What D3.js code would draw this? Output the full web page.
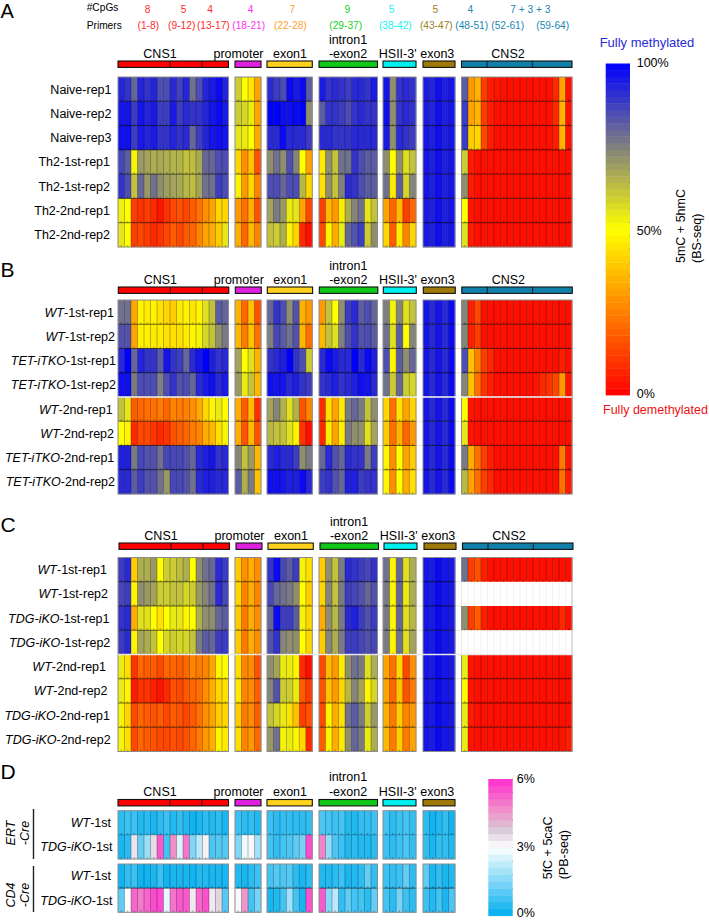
<!DOCTYPE html>
<html>
<head>
<meta charset="utf-8">
<script src="https://cdn.jsdelivr.net/npm/d3@7"></script>
<style>
  body { margin: 0; background: #fff; }
  svg { display: block; font-family: "Liberation Sans", Arial, sans-serif; }
</style>
</head>
<body>
<svg id="chart" width="709" height="920"></svg>
<script>
const WIDTH = 709;
const HEIGHT = 920;

const GROUP_NAMES = ["CNS1", "promoter", "exon1", "intron1", "HSII-3'", "exon3", "CNS2"];
const GROUP_SIZES = [17, 4, 7, 9, 5, 5, 17];
const GROUP_COLORS = ["#ff0000", "#e020e0", "#ffd21e", "#10c818", "#00f0f0", "#a07a08", "#1080a8"];

const CPG_COUNTS = ["8", "5", "4", "4", "7", "9", "5", "5", "4", "7 + 3 + 3"];
const CPG_COLORS = ["#ff2a2a", "#ff2a2a", "#ff2a2a", "#ff30f0", "#ffa030", "#20d028", "#20f0f0", "#a08020", "#2088b0", "#2088b0"];
const PRIMER_LABELS = ["(1-8)", "(9-12)", "(13-17)", "(18-21)", "(22-28)", "(29-37)", "(38-42)", "(43-47)", "(48-51)", "(52-61)", "(59-64)"];
const PRIMER_COLORS = ["#ff2a2a", "#ff2a2a", "#ff2a2a", "#ff30f0", "#ffa030", "#20d028", "#20f0f0", "#a08020", "#2088b0", "#2088b0", "#2088b0"];

// 5mC + 5hmC in percent, one inner list per region
const panelALabels = [["", "Naive-rep1"], ["", "Naive-rep2"], ["", "Naive-rep3"], ["", "Th2-1st-rep1"], ["", "Th2-1st-rep2"], ["", "Th2-2nd-rep1"], ["", "Th2-2nd-rep2"]];
const panelAValues = [
  [[93,90,80,93,90,93,85,85,92,87,93,78,85,93,95,98,93],[60,50,45,32],[92,88,85,98,95,98,82],[95,90,92,90,88,92,92,90,95],[96,72,90,92,90],[95,93,97,94,96],[82,30,35,12,6,4,3,3,3,3,3,3,3,3,8,32,3]],
  [[96,96,88,96,93,95,88,88,95,88,92,90,90,93,96,98,95],[60,58,54,32],[100,100,97,97,98,100,72],[82,90,90,88,85,90,92,90,90],[97,72,90,92,90],[95,93,97,94,96],[88,32,35,12,6,3,3,3,3,3,3,3,3,3,8,35,3]],
  [[97,97,88,95,93,95,90,90,93,90,92,80,88,93,96,97,96],[55,54,50,33],[92,92,98,92,92,92,88],[92,92,90,90,90,92,92,92,92],[95,72,92,90,88],[96,94,97,94,96],[88,40,42,14,6,3,3,3,3,3,3,3,3,3,6,35,3]],
  [[86,82,52,70,68,66,67,66,65,65,62,63,67,80,80,85,85],[42,28,38,16],[72,78,72,85,74,50,32],[46,72,62,78,78,90,85,82,82],[72,50,72,56,62],[96,94,97,94,96],[60,5,3,3,3,3,3,3,3,3,3,3,3,3,3,3,3]],
  [[90,85,62,80,70,78,72,69,68,67,64,63,68,78,78,88,85],[48,30,42,26],[85,85,80,85,85,64,42],[44,72,62,75,92,90,85,82,82],[78,46,82,58,74],[96,94,97,94,96],[72,5,3,3,3,3,3,3,3,3,3,3,3,3,3,3,3]],
  [[53,50,12,10,12,8,4,10,14,16,14,18,22,28,32,42,42],[30,22,34,16],[68,76,70,54,55,32,14],[12,36,30,46,66,74,78,55,62],[32,20,36,12,20],[95,94,97,94,96],[50,4,3,3,3,3,3,3,3,3,3,3,3,3,3,3,3]],
  [[55,50,12,14,12,8,10,14,18,14,18,20,26,32,34,40,55],[34,20,36,26],[62,60,66,48,42,8,3],[14,48,34,54,80,84,88,60,72],[42,18,46,26,42],[95,94,97,94,96],[56,5,3,3,3,3,3,3,3,3,3,3,3,3,3,3,3]]
];

const panelBLabels = [["WT", "-1st-rep1"], ["WT", "-1st-rep2"], ["TET-iTKO", "-1st-rep1"], ["TET-iTKO", "-1st-rep2"], ["WT", "-2nd-rep1"], ["WT", "-2nd-rep2"], ["TET-iTKO", "-2nd-rep1"], ["TET-iTKO", "-2nd-rep2"]];
const panelBValues = [
  [[78,78,33,48,46,48,44,42,40,46,48,45,48,56,62,82,80],[35,20,38,16],[80,90,85,72,84,35,30],[30,62,50,72,88,92,82,85,80],[75,52,74,56,62],[96,92,96,92,98],[74,6,14,3,3,3,3,3,3,3,3,3,3,3,3,3,3]],
  [[84,84,32,47,47,46,46,44,44,44,46,48,52,58,62,72,76],[36,24,38,22],[75,86,82,78,84,36,22],[36,62,56,75,85,90,84,85,82],[78,56,82,50,74],[96,92,96,92,98],[74,6,12,3,3,3,3,3,3,3,3,3,3,3,3,3,3]],
  [[92,100,80,93,90,90,82,96,90,88,80,92,96,100,94,90,92],[68,50,56,35],[90,92,94,100,90,85,60],[92,98,95,92,92,100,92,98,94],[85,48,82,72,80],[96,92,96,92,98],[85,38,25,12,8,3,3,3,3,3,3,3,3,3,3,6,3]],
  [[97,97,76,85,85,85,75,85,90,84,85,80,92,95,97,92,95],[70,54,62,36],[97,96,96,92,94,90,88],[90,92,94,90,92,94,97,96,92],[78,60,80,60,58],[96,92,96,92,98],[74,38,22,10,6,3,3,3,3,3,3,4,8,10,14,30,4]],
  [[62,55,18,20,22,22,24,20,26,24,25,28,33,42,48,54,50],[34,18,36,9],[68,74,65,56,65,16,26],[8,44,32,46,76,80,76,62,72],[42,22,44,32,42],[96,92,96,92,98],[50,4,3,3,3,3,3,3,3,3,3,3,3,3,3,3,3]],
  [[50,48,8,14,14,10,8,10,16,18,20,24,26,34,36,44,52],[34,16,36,16],[64,62,62,56,48,10,3],[8,46,32,47,76,72,72,56,68],[40,22,35,20,30],[96,92,96,92,98],[55,4,3,3,3,3,3,3,3,3,3,3,3,3,3,3,3]],
  [[94,94,76,86,84,84,78,86,86,86,84,80,92,94,96,90,92],[74,62,70,36],[92,94,92,92,88,72,76],[80,92,84,80,92,90,90,76,88],[48,28,50,32,40],[96,92,96,92,98],[76,34,22,12,6,3,3,3,3,3,3,3,3,3,3,24,4]],
  [[92,92,82,88,84,84,78,70,86,86,84,78,92,94,94,92,92],[82,66,76,38],[97,97,96,94,94,98,92],[88,90,84,80,94,94,88,90,90],[48,28,50,34,44],[96,92,96,92,98],[64,32,22,12,8,3,3,3,3,3,3,3,3,3,3,22,5]]
];

// the two empty CNS2 lists are the unmeasured, white rows
const panelCLabels = [["WT", "-1st-rep1"], ["WT", "-1st-rep2"], ["TDG-iKO", "-1st-rep1"], ["TDG-iKO", "-1st-rep2"], ["WT", "-2nd-rep1"], ["WT", "-2nd-rep2"], ["TDG-iKO", "-2nd-rep1"], ["TDG-iKO", "-2nd-rep2"]];
const panelCValues = [
  [[88,92,40,66,66,70,50,60,60,63,66,50,72,78,80,92,88],[40,28,34,28],[90,98,86,82,88,52,44],[40,72,62,76,92,90,88,86,90],[78,48,80,56,66],[96,95,98,96,95],[78,12,16,6,3,3,3,3,3,3,3,3,3,3,3,3,3]],
  [[86,88,48,72,70,68,60,60,62,62,58,60,70,74,78,92,86],[42,26,34,26],[86,80,78,76,72,50,40],[42,74,62,76,88,86,84,80,84],[76,48,80,54,66],[96,95,98,96,95],[]],
  [[90,92,34,56,56,50,44,50,54,55,48,50,66,72,72,80,82],[40,24,34,28],[80,98,88,88,82,52,42],[34,72,64,76,92,94,88,84,88],[76,48,80,56,64],[96,95,98,96,95],[72,12,18,6,3,3,3,3,3,3,3,3,3,3,3,8,3]],
  [[88,92,48,68,66,62,50,58,60,58,58,62,76,82,80,88,88],[40,24,34,28],[84,90,74,72,72,50,42],[40,74,66,76,88,88,86,84,86],[76,48,78,56,68],[96,95,98,96,95],[]],
  [[54,44,10,20,18,18,14,20,20,18,20,26,24,26,32,48,50],[44,26,28,16],[72,68,54,54,48,8,3],[14,36,30,46,72,78,76,56,66],[32,22,42,14,28],[96,95,98,96,95],[54,4,3,3,3,3,3,3,3,3,3,3,3,3,3,3,3]],
  [[54,48,5,10,10,6,4,8,16,14,18,20,22,28,34,42,44],[46,26,28,18],[74,84,60,60,54,18,12],[16,38,30,42,64,74,68,48,58],[32,20,38,16,24],[96,95,98,96,95],[49,4,3,3,3,3,3,3,3,3,3,3,3,3,3,3,3]],
  [[52,42,14,20,18,16,18,14,18,16,14,18,22,28,32,40,42],[40,24,28,18],[62,58,54,44,38,12,16],[14,48,34,44,78,82,76,60,70],[34,24,40,26,30],[96,95,98,96,95],[54,5,3,3,3,3,3,3,3,3,3,3,3,3,3,3,3]],
  [[52,44,14,20,18,16,14,14,16,14,16,20,24,30,34,48,46],[44,26,30,20],[70,78,52,54,48,42,8],[18,48,34,46,72,80,76,54,66],[36,24,40,24,32],[96,95,98,96,95],[54,4,3,3,3,3,3,3,3,3,3,3,3,3,3,4,6]]
];

// 5fC + 5caC in percent
const panelDLabels = [["WT", "-1st"], ["TDG-iKO", "-1st"]];
const panelDErtValues = [
  [[0.5,0.7,0.7,0.4,0.5,0.3,0.5,0.7,0.4,0.6,0.4,0.2,0.3,0.5,0.4,0.5,0.3],[0.7,0.5,0.6,0.4],[0.7,0.5,0.6,0.6,0.5,0.5,0.6],[0.9,0.8,0.7,0.8,0.4,0.4,0.6,0.6,0.7],[0.8,0.5,0.7,0.8,0.6],[0.5,0.2,0.4,0.6,0.2]],
  [[0.3,0.5,3.4,1.2,1.8,3.5,5.4,0.8,4.6,2.6,5,1.5,2.2,3.2,0.9,1,1],[1.5,2.8,3.1,1.9],[0.8,0.6,0.8,0.9,1.1,1.4,5.6],[4.8,1.7,0.9,0.7,0.4,0.5,0.4,0.4,0.5],[0.7,0.5,0.7,0.9,0.6],[0.6,0.3,0.6,0.6,0.4]]
];
const panelDCd4Values = [
  [[0.2,0.6,0.7,0.2,0.2,0.3,0.7,0.2,0.3,0.3,0.3,0.2,0.4,0.4,0.3,0.3,0.3],[0.4,0.3,0.5,0.7],[0.8,1,0.9,1,0.5,0.3,0.5],[0.4,0.4,0.5,0.7,0.3,0.4,0.5,1.2,0.6],[0.7,0.6,0.7,1.2,0.5],[1.1,0.3,0.6,0.3,0.4]],
  [[1.1,3,5.2,4.9,5.2,5.6,5.6,2.7,5,5.4,5.4,3.3,5.2,5.5,3.3,3.6,1],[3.1,4.5,0.8,1.4],[0.3,0.4,0.8,1.9,0.8,0.3,5.5],[5.4,1.6,2.2,0.6,1.1,0.8,0.8,0.5,1.2],[0.8,0.5,1.4,0.7,0.5],[0.7,0.4,0.8,0.3,0.9]]
];

const methylColor = d3.scaleLinear().domain([0, 50, 100]).range(["#ff0000", "#ffff00", "#0000ff"]);
const oxiColor = d3.scaleLinear()
  .domain([0, 3, 3.8, 4.6, 6])
  .range(["#00aeef", "#ffffff", "#d8c8d8", "#f090c8", "#ff30d0"]);

const svg = d3.select("#chart");

// pixel extents of each region, shared by all panels
const GROUP_X = [[118, 228.5], [235, 261], [267, 312.3], [319, 377.5], [383, 416], [423, 455], [461.5, 572]];
const groupScales = GROUP_SIZES.map((n, g) => d3.scaleBand().domain(d3.range(n)).range(GROUP_X[g]));
const BAR_SPLITS = [[118, 170, 202, 228.5], [235, 261], [267, 312.3], [319, 377.5], [383, 416], [423, 455], [461.5, 487, 532.3, 572]];
const TITLE_X = [160, 238.5, 290, 348, 397.7, 437.3, 508];

function drawTitles(g, groupCount, dx, baseY, barTop) {
  GROUP_NAMES.slice(0, groupCount).forEach((name, i) => {
    const t = g.append("text")
      .attr("x", TITLE_X[i] + dx)
      .attr("y", baseY)
      .attr("text-anchor", "middle")
      .attr("font-size", 12.5);
    if (name === "intron1") {
      t.attr("y", baseY - 14.5).text(name);
      g.append("text").attr("x", TITLE_X[i] + dx).attr("y", baseY)
        .attr("text-anchor", "middle").attr("font-size", 12.5).text("-exon2");
    } else {
      t.text(name);
    }
    const splits = BAR_SPLITS[i];
    g.append("rect")
      .attr("x", splits[0] + dx)
      .attr("y", barTop)
      .attr("width", splits[splits.length - 1] - splits[0])
      .attr("height", 6.4)
      .attr("fill", GROUP_COLORS[i])
      .attr("stroke", "#111")
      .attr("stroke-width", 1.1);
    g.selectAll(null)
      .data(splits.slice(1, -1))
      .join("line")
      .attr("x1", (d) => d + dx).attr("x2", (d) => d + dx)
      .attr("y1", barTop).attr("y2", barTop + 6.4)
      .attr("stroke", "#111")
      .attr("stroke-width", 0.9);
  });
}

function drawHeat(g, values, color, top, bottom, rowLineOpacity = 0.7) {
  const y = d3.scaleBand().domain(d3.range(values.length)).range([top, bottom]);
  const groupCount = values[0].length;

  // faint row lines that run across the gaps between regions
  g.selectAll(null)
    .data(d3.range(1, values.length))
    .join("line")
    .attr("x1", 118).attr("x2", GROUP_X[groupCount - 1][1])
    .attr("y1", (d) => y(d)).attr("y2", (d) => y(d))
    .attr("stroke", "#e4e4e4")
    .attr("stroke-width", 1);

  d3.range(groupCount).forEach((gi) => {
    const x = groupScales[gi];
    const cells = [];
    values.forEach((row, r) => {
      x.domain().forEach((c) => cells.push({ r, c, v: row[gi][c] }));
    });
    const [x0, x1] = x.range();

    g.selectAll(null)
      .data(cells)
      .join("rect")
      .attr("x", (d) => x(d.c))
      .attr("y", (d) => y(d.r))
      .attr("width", x.bandwidth() + 0.3)
      .attr("height", y.bandwidth() + 0.3)
      .attr("fill", (d) => (d.v === undefined ? "#ffffff" : color(d.v)));

    // column separators, pale where a row has no data
    g.selectAll(null)
      .data(cells.filter((d) => d.c > 0))
      .join("line")
      .attr("x1", (d) => x(d.c)).attr("x2", (d) => x(d.c))
      .attr("y1", (d) => y(d.r)).attr("y2", (d) => y(d.r) + y.bandwidth())
      .attr("stroke", (d) => (d.v === undefined ? "#ececec" : "#000"))
      .attr("stroke-opacity", (d) => (d.v === undefined ? 1 : 0.4))
      .attr("stroke-width", 0.7);

    g.selectAll(null)
      .data(cells.filter((d) => d.v !== undefined))
      .join("line")
      .attr("x1", (d) => x(d.c) + x.bandwidth() / 2).attr("x2", (d) => x(d.c) + x.bandwidth() / 2)
      .attr("y1", (d) => y(d.r) + y.bandwidth() - 1.8).attr("y2", (d) => y(d.r) + y.bandwidth())
      .attr("stroke", "#000")
      .attr("stroke-opacity", 0.6)
      .attr("stroke-width", 0.6);

    g.selectAll(null)
      .data(d3.range(1, values.length).filter((r) => values[r][gi].length && values[r - 1][gi].length))
      .join("line")
      .attr("x1", x0).attr("x2", x1)
      .attr("y1", (d) => y(d)).attr("y2", (d) => y(d))
      .attr("stroke", "#000")
      .attr("stroke-opacity", rowLineOpacity)
      .attr("stroke-width", 0.8);

    g.append("rect")
      .attr("x", x0).attr("y", top)
      .attr("width", x1 - x0).attr("height", bottom - top)
      .attr("fill", "none")
      .attr("stroke", "#8c8c8c")
      .attr("stroke-width", 1);

    // rows without data carry no dark edge
    values.forEach((row, r) => {
      if (row[gi].length) return;
      [x0, x1].forEach((edge) => {
        g.append("line")
          .attr("x1", edge).attr("x2", edge)
          .attr("y1", y(r)).attr("y2", y(r) + y.bandwidth())
          .attr("stroke", "#ececec")
          .attr("stroke-width", 1.2);
      });
    });
  });
  return y;
}

function drawRowLabels(g, labels, y, ends) {
  labels.forEach((parts, i) => {
    const t = g.append("text")
      .attr("x", ends[i])
      .attr("y", y(i) + y.bandwidth() / 2)
      .attr("dy", "0.35em")
      .attr("text-anchor", "end")
      .attr("font-size", 12.5);
    if (parts[0]) t.append("tspan").attr("font-style", "italic").text(parts[0]);
    t.append("tspan").text(parts[1]);
  });
}

function panelLetter(letter, y, size = 21) {
  svg.append("text").attr("x", 0.6).attr("y", y).attr("font-size", size).text(letter);
}

// primers header over panel A
svg.append("text").attr("x", 86.7).attr("y", 11).attr("font-size", 10.2).text("#CpGs");
svg.append("text").attr("x", 86.7).attr("y", 28.5).attr("font-size", 10.2).text("Primers");
const CPG_X = [147.7, 183.7, 210, 250.7, 292.3, 347.3, 391.7, 435.3, 470.3, 530.3];
const PRIMER_X = [148.3, 181.7, 213.3, 248.7, 290.3, 345.7, 395.3, 436.3, 471.7, 507.7, 552.7];
svg.selectAll(null).data(CPG_COUNTS).join("text")
  .attr("x", (d, i) => CPG_X[i]).attr("y", 13)
  .attr("text-anchor", "middle").attr("font-size", 10.2)
  .attr("fill", (d, i) => CPG_COLORS[i]).text((d) => d);
svg.selectAll(null).data(PRIMER_LABELS).join("text")
  .attr("x", (d, i) => PRIMER_X[i]).attr("y", 29)
  .attr("text-anchor", "middle").attr("font-size", 10.2)
  .attr("fill", (d, i) => PRIMER_COLORS[i]).text((d) => d);

// panel A
panelLetter("A", 18.4, 20);
const panelA = svg.append("g");
drawTitles(panelA, 7, 0, 58, 61);
const yA = drawHeat(panelA, panelAValues, methylColor, 77, 247);
drawRowLabels(panelA, panelALabels, yA, [111.5, 111.5, 111.5, 110, 110, 110, 110]);

// panel B
panelLetter("B", 276.7);
const panelB = svg.append("g");
drawTitles(panelB, 7, 0.3, 284, 287);
const yB = drawHeat(panelB, panelBValues, methylColor, 300, 494);
drawRowLabels(panelB, panelBLabels, yB, [114, 115, 116, 116, 112.7, 114, 114.3, 115]);
panelB.append("line").attr("x1", 118).attr("x2", 572)
  .attr("y1", yB(4)).attr("y2", yB(4))
  .attr("stroke", "#fff").attr("stroke-width", 1.6);

// panel C
panelLetter("C", 531.7);
const panelC = svg.append("g");
drawTitles(panelC, 7, 1, 540, 543);
const yC = drawHeat(panelC, panelCValues, methylColor, 557.5, 751.5);
drawRowLabels(panelC, panelCLabels, yC, [107, 108, 109.5, 110.3, 106, 107.5, 110, 110.7]);
panelC.append("line").attr("x1", 118).attr("x2", 572)
  .attr("y1", yC(4)).attr("y2", yC(4))
  .attr("stroke", "#e8e8e8").attr("stroke-width", 1.4);

// panel D
panelLetter("D", 779);
const panelD = svg.append("g");
drawTitles(panelD, 6, 0, 795.7, 799.5);
const yErt = drawHeat(panelD, panelDErtValues, oxiColor, 810.7, 859, 0.3);
const yCd4 = drawHeat(panelD, panelDCd4Values, oxiColor, 864, 912.3);
drawRowLabels(panelD, panelDLabels, yErt, [111, 112.6]);
drawRowLabels(panelD, panelDLabels, yCd4, [111, 112.6]);

function creLabel(first, cy) {
  [[first, 14.7], ["-Cre", 28.7]].forEach(([label, bx]) => {
    panelD.append("text")
      .attr("transform", `translate(${bx},${cy}) rotate(-90)`)
      .attr("text-anchor", "middle")
      .attr("font-size", 12.5)
      .attr("font-style", "italic")
      .text(label);
  });
}
creLabel("ERT", 833);
creLabel("CD4", 895);
[[809, 859], [866, 912]].forEach(([y1, y2]) => {
  panelD.append("line").attr("x1", 33.5).attr("x2", 33.5)
    .attr("y1", y1).attr("y2", y2)
    .attr("stroke", "#222").attr("stroke-width", 1.4);
});

function drawLegend(color, maxValue, x0, x1, top, bottom, bands, tickValues, tickX, tickBaseline, titleLines, titleX, titleBottom) {
  const g = svg.append("g");
  const band = d3.scaleBand().domain(d3.range(bands)).range([bottom, top]);
  g.selectAll("rect")
    .data(d3.range(bands))
    .join("rect")
    .attr("x", x0)
    .attr("y", (d) => band(d))
    .attr("width", x1 - x0)
    .attr("height", band.bandwidth() + 0.4)
    .attr("fill", (d) => color((d + 0.5) * maxValue / bands));
  g.selectAll("circle")
    .data(d3.range(1, bands, 2))
    .join("circle")
    .attr("cx", x1 - 0.6)
    .attr("cy", (d) => band(d))
    .attr("r", 0.4)
    .attr("fill", "#444");
  g.selectAll("text.tick")
    .data(tickValues)
    .join("text")
    .attr("class", "tick")
    .attr("x", tickX)
    .attr("y", (d, i) => tickBaseline[i])
    .attr("font-size", 12.5)
    .text((d) => `${d}%`);
  titleLines.forEach((line, i) => {
    g.append("text")
      .attr("transform", `translate(${titleX[i]},${titleBottom}) rotate(-90)`)
      .attr("font-size", 12.5)
      .text(line);
  });
}

drawLegend(methylColor, 100, 605.7, 630, 63.5, 395, 50, [100, 50, 0], 636.7, [67, 235, 398],
  ["5mC + 5hmC", "(BS-seq)"], [685, 701], 263);
drawLegend(oxiColor, 6, 488.3, 512.7, 779, 915.7, 20, [6, 3, 0], 516.7, [782.7, 850.7, 917],
  ["5fC + 5caC", "(PB-seq)"], [552.3, 568.3], 879.3);

svg.append("text").attr("x", 647).attr("y", 46.7).attr("text-anchor", "middle")
  .attr("font-size", 13).attr("fill", "#2a2ad8").text("Fully methylated");
svg.append("text").attr("x", 655.5).attr("y", 414).attr("text-anchor", "middle")
  .attr("font-size", 12.5).attr("fill", "#f01010").text("Fully demethylated");
</script>
</body>
</html>
